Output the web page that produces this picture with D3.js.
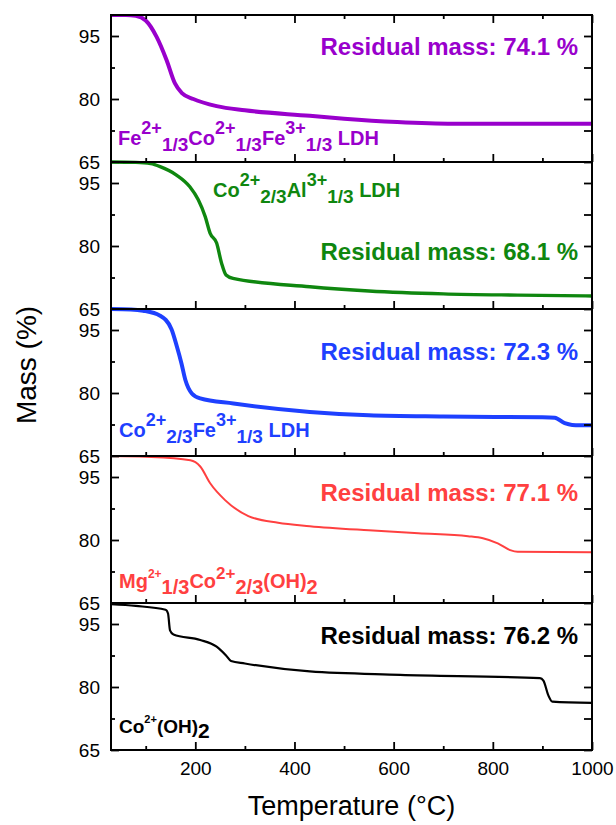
<!DOCTYPE html>
<html>
<head>
<meta charset="utf-8">
<title>TGA curves</title>
<script src="https://cdn.jsdelivr.net/npm/d3@7"></script>
<style>
  body { margin: 0; background: #fff; }
  text { font-family: "Liberation Sans", Arial, sans-serif; }
</style>
</head>
<body>
<script>
// temperature (°C), mass (%)
var feCoFe = [[30,100],[60,100],[80,99.8],[100,98.7],[122,94.8],[142,89.3],[159,83.7],[173,81.4],[196,80],[243,78.3],[300,77.3],[431,76],[500,75.3],[607,74.5],[720,74.1],[1000,74.1]]
var coAl = [[30,100],[80,99.9],[110,99.6],[129,98.9],[162,96.9],[189,94.1],[206,91],[220,87],[230,83],[243,80.7],[253,75.9],[262,73.1],[276,72.3],[431,70.3],[550,69.3],[700,68.6],[850,68.3],[1000,68.1]]
var coFe = [[30,100],[70,99.9],[95,99.6],[129,98.4],[152,95.2],[163,91],[172,87.1],[180,83.1],[193,79.9],[210,78.7],[277,77.5],[431,75.5],[550,74.7],[700,74.4],[900,74.2],[925,74.1],[945,72.8],[960,72.4],[1000,72.3]]
var mgCo = [[30,100],[100,99.8],[190,99],[210,97.5],[230,93.5],[260,89.5],[307,85.7],[367,84.1],[431,83.3],[550,82.3],[650,81.6],[750,80.9],[780,80.4],[810,79.2],[835,77.6],[850,77.2],[1000,77.1]]
var coOH = [[30,99.7],[80,99.3],[140,98.4],[145,97.5],[149,93.5],[156,92.5],[210,91.2],[243,89.6],[262,87.5],[272,86.2],[300,85.6],[431,83.7],[613,82.9],[895,82.1],[902,81.5],[912,78],[920,76.5],[1000,76.2]]

var residuals = ["74.1", "68.1", "72.3", "77.1", "76.2"]

var xMajor = [200, 400, 600, 800, 1000],
    xMinor = [100, 300, 500, 700, 900],
    yMajor = [65, 80, 95],
    yMinor = [72.5, 87.5]

// label pieces: text, font size, baseline shift
var labelFeCoFe = [["Fe",20,0],["2+",18,-11],["1/3",19,6],["Co",20,0],["2+",18,-11],["1/3",19,6],["Fe",20,0],["3+",18,-11],["1/3",19,6],[" LDH",20,0]]
var labelCoAl = [["Co",20,0],["2+",18,-11],["2/3",19,6],["Al",20,0],["3+",18,-11],["1/3",19,6],[" LDH",20,0]]
var labelCoFe = [["Co",20,0],["2+",18,-11],["2/3",19,6],["Fe",20,0],["3+",18,-11],["1/3",19,6],[" LDH",20,0]]
var labelMgCo = [["Mg",20,0],["2+",12,-10],["1/3",20,6],["Co",20,0],["2+",17,-9],["2/3",20,6],["(OH)",20,0],["2",20,6]]
var labelCoOH = [["Co",19,0],["2+",11,-10],["(OH)",19,0],["2",21,5]]

var width = 616, height = 825
var plotL = 111, plotR = 592, plotT = 15, panelH = 147

var panels = [
    {data: feCoFe, color: "#9900cc", lw: 4, label: labelFeCoFe, lx: 118, ly: 130, ry: 40},
    {data: coAl, color: "#0f870f", lw: 3.4, label: labelCoAl, lx: 213, ly: 35, ry: 98},
    {data: coFe, color: "#1e40ff", lw: 4, label: labelCoFe, lx: 119, ly: 128, ry: 51},
    {data: mgCo, color: "#ff4040", lw: 2, label: labelMgCo, lx: 119, ly: 132, ry: 45},
    {data: coOH, color: "#000000", lw: 2.2, label: labelCoOH, lx: 119, ly: 130, ry: 41}
]

var svg = d3.select("body").append("svg")
    .attr("width", width)
    .attr("height", height)

var x = d3.scaleLinear().domain([30, 1000]).range([plotL, plotR])

svg.append("clipPath").attr("id", "clip")
    .append("rect")
    .attr("x", plotL).attr("y", plotT)
    .attr("width", plotR - plotL).attr("height", panelH * 5)

panels.forEach(function (p, i) {
    var y0 = plotT + i * panelH
    var y = d3.scaleLinear().domain([65, 100]).range([y0 + panelH, y0])
    var g = svg.append("g")

    var line = d3.line()
        .x(function (d) { return x(d[0]) })
        .y(function (d) { return y(d[1]) })
        .curve(d3.curveMonotoneX)

    g.append("path")
        .datum(p.data)
        .attr("clip-path", "url(#clip)")
        .attr("fill", "none")
        .attr("stroke", p.color)
        .attr("stroke-width", p.lw)
        .attr("stroke-linejoin", "round")
        .attr("d", line)

    // left axis, ticks inward
    g.append("g").attr("transform", "translate(" + plotL + ",0)")
        .call(d3.axisLeft(y).tickValues(yMajor).tickSize(-8).tickPadding(11).tickSizeOuter(0))
    g.append("g").attr("transform", "translate(" + plotL + ",0)")
        .call(d3.axisLeft(y).tickValues(yMinor).tickSize(-4).tickFormat("").tickSizeOuter(0))
    // right axis, ticks inward
    g.append("g").attr("transform", "translate(" + plotR + ",0)")
        .call(d3.axisRight(y).tickValues(yMajor.concat(yMinor)).tickSize(-8).tickFormat("").tickSizeOuter(0))

    // bottom ticks
    g.append("g").attr("transform", "translate(0," + (y0 + panelH) + ")")
        .call(d3.axisBottom(x).tickValues(xMajor).tickSize(-8).tickPadding(12).tickSizeOuter(0)
            .tickFormat(i == 4 ? d3.format("d") : ""))
    g.append("g").attr("transform", "translate(0," + (y0 + panelH) + ")")
        .call(d3.axisBottom(x).tickValues(xMinor).tickSize(-4).tickFormat("").tickSizeOuter(0))
    if (i == 0) {
        g.append("g").attr("transform", "translate(0," + y0 + ")")
            .call(d3.axisTop(x).tickValues(xMajor).tickSize(-8).tickFormat("").tickSizeOuter(0))
        g.append("g").attr("transform", "translate(0," + y0 + ")")
            .call(d3.axisTop(x).tickValues(xMinor).tickSize(-4).tickFormat("").tickSizeOuter(0))
    }

    // residual mass text
    g.append("text")
        .attr("x", 578)
        .attr("y", y0 + p.ry)
        .attr("text-anchor", "end")
        .attr("font-size", 24)
        .attr("font-weight", "bold")
        .attr("fill", p.color)
        .text("Residual mass: " + residuals[i] + " %")

    // sample label with sub/superscripts
    var t = g.append("text")
        .attr("x", p.lx)
        .attr("y", y0 + p.ly)
        .attr("font-weight", "bold")
        .attr("fill", p.color)
        .style("white-space", "pre")
    var prev = 0
    p.label.forEach(function (part) {
        t.append("tspan")
            .attr("font-size", part[1])
            .attr("dy", part[2] - prev)
            .text(part[0])
        prev = part[2]
    })
})

svg.selectAll(".domain").remove()
svg.selectAll(".tick line").attr("stroke", "#000").attr("stroke-width", 1.8)
svg.selectAll(".tick text").attr("font-size", 19).attr("fill", "#000")
    .style("font-family", "'Liberation Sans', Arial, sans-serif")

// frame and panel separators
svg.append("rect")
    .attr("x", plotL).attr("y", plotT)
    .attr("width", plotR - plotL).attr("height", panelH * 5)
    .attr("fill", "none").attr("stroke", "#000").attr("stroke-width", 2)
d3.range(1, 5).forEach(function (k) {
    svg.append("line")
        .attr("x1", plotL).attr("x2", plotR)
        .attr("y1", plotT + k * panelH).attr("y2", plotT + k * panelH)
        .attr("stroke", "#000").attr("stroke-width", 2)
})

svg.append("text")
    .attr("x", (plotL + plotR) / 2)
    .attr("y", 815)
    .attr("text-anchor", "middle")
    .attr("font-size", 27)
    .text("Temperature (°C)")

svg.append("text")
    .attr("transform", "translate(36,365) rotate(-90)")
    .attr("text-anchor", "middle")
    .attr("font-size", 28)
    .text("Mass (%)")
</script>
</body>
</html>
